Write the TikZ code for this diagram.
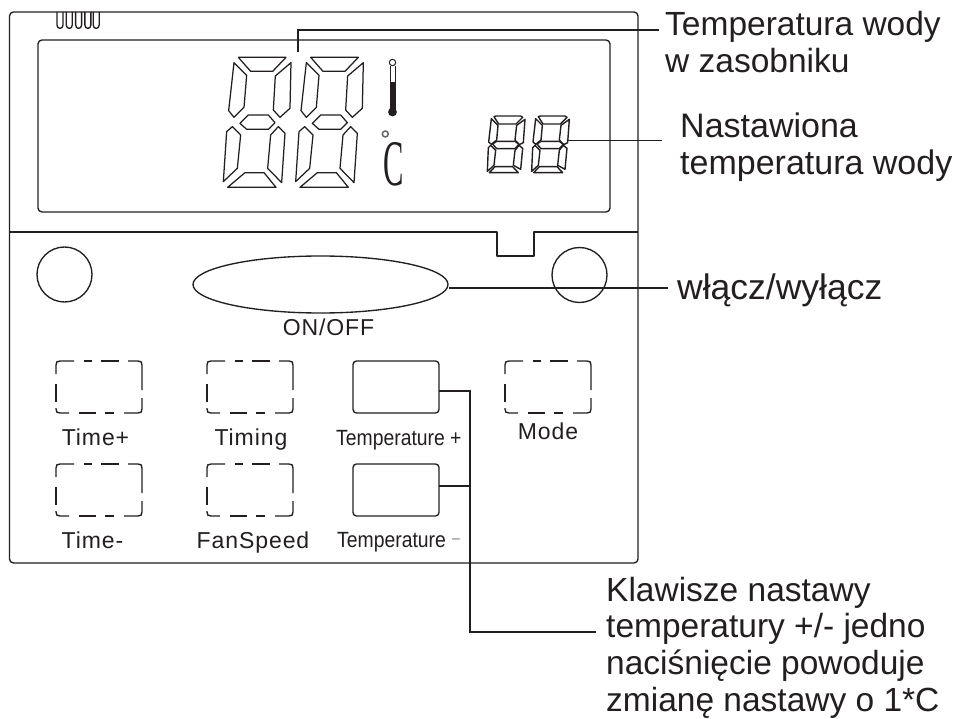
\documentclass[tikz,border=0pt]{standalone}
\usepackage{fontspec}
\setmainfont{Liberation Sans}
\newfontfamily\spacedfont[LetterSpace=4]{Liberation Sans}
\newfontfamily\serifcfont{Liberation Serif}
\usetikzlibrary{shapes.geometric}
\definecolor{ink}{HTML}{231F20}
\newcommand{\lcddigit}[2]{%
  \begin{scope}[shift={(#1,#2)},scale=.3333,lcdseg]
    \draw (45,0)--(188,0)--(148,42)--(82,42)--cycle;
    \draw (32,16)--(70,54)--(62,150)--(32,180)--(16,160)--cycle;
    \draw (203,16)--(200,153)--(170,180)--(150,158)--(156,56)--cycle;
    \draw (50,198)--(75,173)--(135,173)--(155,196)--(135,216)--(70,216)--cycle;
    \draw (27,208)--(52,233)--(42,333)--(0,373)--(10,223)--cycle;
    \draw (142,233)--(165,208)--(185,228)--(175,376)--(133,333)--cycle;
    \draw (13,390)--(65,346)--(122,346)--(158,390)--cycle;
  \end{scope}}
\newcommand{\smalldigit}[2]{%
  \begin{scope}[shift={(#1,#2)},scale=.3333,lcdsmall]
    \draw (22,2)--(28,0)--(102,0)--(108,4)--(88,24)--(36,24)--cycle;
    \draw (14,8)--(34,28)--(30,72)--(14,85)--(6,78)--cycle;
    \draw (115,10)--(110,80)--(98,86)--(85,72)--(90,28)--cycle;
    \draw (18,84)--(30,76)--(85,76)--(97,85)--(85,98)--(30,98)--cycle;
    \draw (5,95)--(12,88)--(27,103)--(22,148)--(2,166)--cycle;
    \draw (97,88)--(108,97)--(102,160)--(80,148)--(85,103)--cycle;
    \draw (8,170)--(25,152)--(78,152)--(95,170)--cycle;
  \end{scope}}
\newcommand{\softbutton}[3]{%
  \node[btnbox,draw=none] (#1) at (#2+43,#3+26) {};
  \begin{scope}[shift={(#2,#3)},panel]
    \draw (0,13)--(0,4) .. controls (0,1) and (1,0) .. (4,0)--(18,0);
    \draw (28,0)--(36,0);
    \draw (45,0)--(63,0);
    \draw (72,0)--(82,0) .. controls (85,0) and (86,1) .. (86,4)--(86,29);
    \draw (0,23)--(0,41);
    \draw (0,47)--(0,48) .. controls (0,51) and (1,52) .. (4,52)--(13,52);
    \draw (23,52)--(40,52);
    \draw (49,52)--(58,52);
    \draw (68,52)--(82,52) .. controls (85,52) and (86,51) .. (86,48)--(86,37);
  \end{scope}}
\tikzset{
  panel/.style={draw=ink,line width=1.35pt,line join=round},
  lcdseg/.style={draw=ink,line width=1.25pt,line join=round},
  lcdsmall/.style={draw=ink,line width=1.4pt,line join=round},
  leader/.style={draw=ink,line width=1.5pt},
  btnbox/.style={panel,rounded corners=3.5pt,minimum width=86pt,minimum height=52pt,inner sep=0pt,outer sep=0pt},
  roundbtn/.style={panel,circle,minimum size=55pt,inner sep=0pt,outer sep=0pt},
  biglabel/.style={anchor=base west,align=left,inner sep=0pt,text=ink,font=\fontsize{33.5}{37.3}\selectfont},
  keylabel/.style={anchor=base,inner sep=0pt,text=ink,font=\spacedfont\fontsize{23}{24}\selectfont},
  templabel/.style={anchor=base west,inner sep=0pt,text=ink,font=\fontsize{22}{24}\selectfont},
}
\begin{document}
\begin{tikzpicture}[x=1pt,y=-1pt]
\useasboundingbox (0,0) rectangle (956,719);
\fill[white] (0,0) rectangle (956,719);
% housing
\node[panel,rounded corners=4pt,minimum width=628.5pt,minimum height=551pt,inner sep=0pt,outer sep=0pt] (frame) at (323.75,287.5) {};
\draw[panel] (9.5,232)--(497,232)--(497,256)--(534,256)--(534,232)--(638,232);
% display
\node[panel,rounded corners=4pt,minimum width=572pt,minimum height=172pt,inner sep=0pt,outer sep=0pt] (display) at (324,126) {};
% battery ticks
\foreach \tx in {57,66.3,75.6,84.9,93.2}
  \draw[panel] (\tx,12)--(\tx,25) .. controls (\tx,29.5) and (\tx+6,29.5) .. (\tx+6,25)--(\tx+6,12);
% digits
\lcddigit{223.33}{57.33}
\lcddigit{295.67}{57.33}
\smalldigit{486.67}{116}
\smalldigit{531}{116}
\coordinate (largetop) at (298,52);
\coordinate (smallright) at (567,140.5);
% thermometer
\draw[panel,line width=1pt] (390,66)--(390,112) (395,66)--(395,112);
\draw[panel,line width=1pt] (392.5,62.5) circle (3.2);
\fill[ink] (389.7,82) rectangle (395.3,112);
\fill[ink] (392.5,112) circle (4.4);
\draw[draw=gray!80!black,line width=1.5pt] (385.3,134) circle (3);
\node[inner sep=0pt,text=ink] (unitC) at (393.5,164.5) {\serifcfont\scalebox{.47}[1]{\fontsize{65}{65}\selectfont C}};
% round buttons
\node[roundbtn] (leftround) at (64.5,274.5) {};
\node[roundbtn] (rightround) at (579.5,275) {};
\node[panel,ellipse,minimum width=255pt,minimum height=57pt,inner sep=0pt,outer sep=0pt] (onoff) at (320.5,284.5) {};
\node[keylabel] (onofflabel) at (328.5,336) {ON/OFF};
% keys
\softbutton{timeplus}{56}{361}
\softbutton{timing}{207}{361}
\softbutton{mode}{505}{361}
\softbutton{timeminus}{56}{464}
\softbutton{fanspeed}{207}{464}
\node[btnbox] (tempplus) at (396,387) {};
\node[btnbox] (tempminus) at (396,490) {};
\node[keylabel] (l1) at (95.5,445) {Time+};
\node[keylabel] (l2) at (251,445) {Timing};
\node[keylabel] (l3) at (92.5,548) {Time-};
\node[keylabel] (l4) at (253,548) {FanSpeed};
\node[keylabel] (l5) at (548,439) {Mode};
\node[templabel] (l6) at (336,445) {\scalebox{.88}[1]{Temperature +}};
\node[templabel] (l7) at (337,547) {\scalebox{.88}[1]{Temperature\hspace{7pt}\raisebox{4pt}{\fontsize{16}{16}\selectfont\textcolor{gray}{–}}}};
% outside labels
\node[biglabel] (wl1) at (665,73) {Temperatura wody\\w zasobniku};
\node[biglabel,font=\fontsize{34}{37}\selectfont] (wl2) at (680,175) {Nastawiona\\temperatura wody};
\node[biglabel,font=\fontsize{35.5}{37}\selectfont] (wl3) at (677,300) {włącz/wyłącz};
\node[biglabel,font=\fontsize{33.5}{36.8}\selectfont] (wl4) at (606,711.5) {Klawisze nastawy\\temperatury +/- jedno\\naciśnięcie powoduje\\zmianę nastawy o 1*C};
\coordinate (wl1end) at (659,30);
\coordinate (wl2end) at (662,140.5);
\coordinate (wl3end) at (668,288);
\coordinate (wl4end) at (596,632);
\coordinate (bus) at (470,391);
% leaders
\draw[leader] (largetop)--(298,30)--(wl1end);
\draw[leader] (smallright)--(wl2end);
\draw[leader] (449,288)--(wl3end);
\draw[leader] ([yshift=-4pt]tempplus.east)--(bus)--(470,632)--(wl4end);
\draw[leader] (tempminus.east)++(0,-4)--(470,486);
\end{tikzpicture}
\end{document}
